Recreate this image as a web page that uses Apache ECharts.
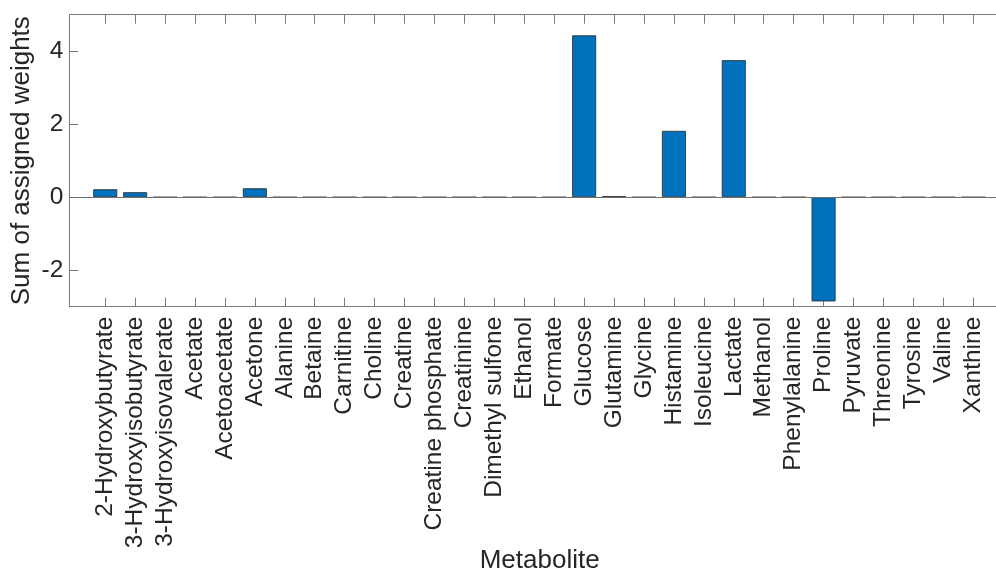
<!DOCTYPE html>
<html>
<head>
<meta charset="utf-8">
<script src="https://cdn.jsdelivr.net/npm/echarts@6/dist/echarts.min.js"></script>
<style>
html,body{margin:0;padding:0;background:#fff;}
#chart{width:996px;height:572px;}
</style>
</head>
<body>
<div id="chart"></div>
<script>
const categories = ['2-Hydroxybutyrate','3-Hydroxyisobutyrate','3-Hydroxyisovalerate','Acetate','Acetoacetate','Acetone','Alanine','Betaine','Carnitine','Choline','Creatine','Creatine phosphate','Creatinine','Dimethyl sulfone','Ethanol','Formate','Glucose','Glutamine','Glycine','Histamine','Isoleucine','Lactate','Methanol','Phenylalanine','Proline','Pyruvate','Threonine','Tyrosine','Valine','Xanthine'];
const weights = [0.217, 0.136, 0, 0, 0, 0.245, 0, 0, 0, 0, 0, 0, 0, 0, 0, 0, 4.435, 0.027, 0, 1.817, 0, 3.753, 0, 0, -2.855, 0, 0, 0, 0, 0];
const yTicks = [-2, 0, 2, 4];
const xPositions = categories.map((c, i) => i + 1);

const textColor = '#262626';
const lineColor = '#7a7a7a';
const font = 'Liberation Sans, Arial, Helvetica, sans-serif';

const chart = echarts.init(document.getElementById('chart'), null, {renderer: 'canvas'});
chart.setOption({
  animation: false,
  backgroundColor: '#ffffff',
  grid: {
    left: 69.3, top: 14.7, bottom: 265.3, right: 0,
    show: false, containLabel: false, outerBoundsMode: 'none'
  },
  xAxis: [{
    type: 'value', min: -0.2, max: 30.76, position: 'bottom',
    splitLine: {show: false},
    axisLine: {show: true, onZero: false, lineStyle: {color: lineColor, width: 1}},
    axisTick: {show: true, inside: true, length: 9, customValues: xPositions, lineStyle: {color: lineColor, width: 1}},
    axisLabel: {
      show: true, customValues: xPositions, rotate: 90, margin: 10,
      color: textColor, fontFamily: font, fontSize: 24.5,
      formatter: v => categories[Math.round(v) - 1] || ''
    },
    name: 'Metabolite', nameLocation: 'middle', nameGap: 241, nameMoveOverlap: false,
    nameTextStyle: {color: textColor, fontFamily: font, fontSize: 26, padding: [0, 0, 0, 14]}
  }, {
    type: 'value', min: -0.2, max: 30.76, position: 'top',
    splitLine: {show: false},
    axisLine: {show: true, onZero: false, lineStyle: {color: lineColor, width: 1}},
    axisTick: {show: true, inside: true, length: 9, customValues: xPositions, lineStyle: {color: lineColor, width: 1}},
    axisLabel: {show: false}
  }],
  yAxis: [{
    type: 'value', min: -3, max: 5, position: 'left',
    splitLine: {show: false},
    axisLine: {show: true, onZero: false, lineStyle: {color: lineColor, width: 1}},
    axisTick: {show: true, inside: true, length: 9, customValues: yTicks, lineStyle: {color: lineColor, width: 1}},
    axisLabel: {show: true, customValues: yTicks, margin: 6, color: textColor, fontFamily: font, fontSize: 24.5},
    name: 'Sum of assigned weights', nameLocation: 'middle', nameGap: 34, nameRotate: 90, nameMoveOverlap: false,
    nameTextStyle: {color: textColor, fontFamily: font, fontSize: 26}
  }],
  series: [{
    type: 'bar',
    xAxisIndex: 0, yAxisIndex: 0,
    data: weights.map((v, i) => [xPositions[i], v]),
    barWidth: 24,
    itemStyle: {color: '#0072BD', borderColor: '#2a2a2a', borderWidth: 0.8},
    markLine: {
      silent: true, symbol: 'none', label: {show: false},
      lineStyle: {color: '#6f6f6f', width: 1, type: 'solid'},
      data: [{yAxis: 0}]
    }
  }]
});
</script>
</body>
</html>
